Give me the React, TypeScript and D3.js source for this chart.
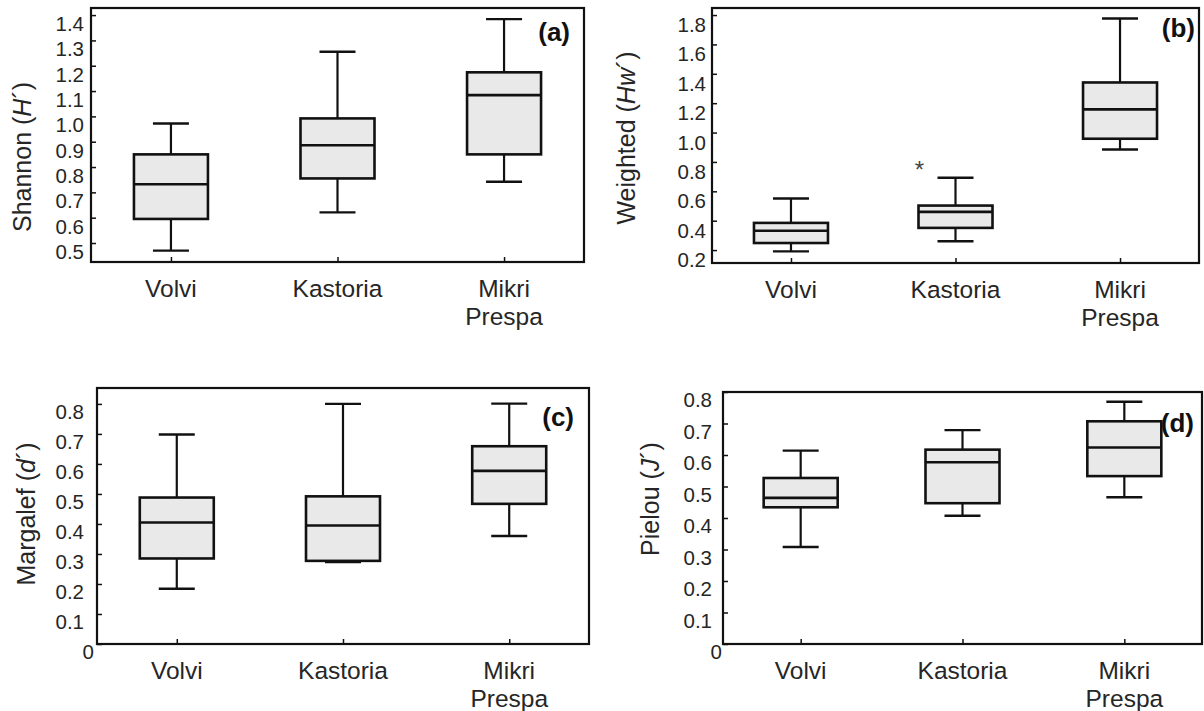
import { useEffect, useRef } from 'react';
import * as d3 from 'd3';

const categories = ['Volvi', 'Kastoria', 'Mikri Prespa'];
const categoryLines = [['Volvi'], ['Kastoria'], ['Mikri', 'Prespa']];

// per lake: [min, q1, median, q3, max]
const shannonStats = [
    [0.47, 0.595, 0.732, 0.85, 0.972],
    [0.621, 0.755, 0.886, 0.992, 1.255],
    [0.742, 0.85, 1.084, 1.174, 1.384],
];
const weightedStats = [
    [0.191, 0.248, 0.332, 0.385, 0.551],
    [0.26, 0.351, 0.46, 0.503, 0.692],
    [0.885, 0.958, 1.158, 1.341, 1.777],
];
const weightedOutliers = [{ lake: 'Kastoria', value: 0.79 }];
const margalefStats = [
    [0.184, 0.285, 0.405, 0.488, 0.698],
    [0.273, 0.277, 0.395, 0.492, 0.8],
    [0.36, 0.467, 0.577, 0.659, 0.801],
];
const pielouStats = [
    [0.308, 0.434, 0.464, 0.527, 0.614],
    [0.407, 0.447, 0.577, 0.617, 0.679],
    [0.466, 0.533, 0.624, 0.707, 0.769],
];

const shannonTicks = [0.5, 0.6, 0.7, 0.8, 0.9, 1.0, 1.1, 1.2, 1.3, 1.4];
const weightedTicks = [0.2, 0.4, 0.6, 0.8, 1.0, 1.2, 1.4, 1.6, 1.8];
const margalefTicks = [0, 0.1, 0.2, 0.3, 0.4, 0.5, 0.6, 0.7, 0.8];
const pielouTicks = [0, 0.1, 0.2, 0.3, 0.4, 0.5, 0.6, 0.7, 0.8];

const FONT = '"Liberation Sans", Arial, Helvetica, sans-serif';
const INK = '#111';
const TEXT = '#262626';
const BOX_FILL = '#e9e9e9';

const panels = [
    {
        stats: shannonStats, ticks: shannonTicks, outliers: [],
        title: ['Shannon (', 'H', '´)'], tag: '(a)',
        left: 91, right: 584, top: 8, bottom: 262, domain: [0.425, 1.428],
        tickGap: 7, zeroGap: 4, labelDy: 9,
        titleX: 22, titleY: 157, tagX: 570, tagY: 41,
    },
    {
        stats: weightedStats, ticks: weightedTicks, outliers: weightedOutliers,
        title: ['Weighted (', 'Hw', '´)'], tag: '(b)',
        left: 712, right: 1199, top: 8, bottom: 263, domain: [0.112, 1.848],
        tickGap: 6, zeroGap: 4, labelDy: 10,
        titleX: 626, titleY: 138, tagX: 1195, tagY: 37,
    },
    {
        stats: margalefStats, ticks: margalefTicks, outliers: [],
        title: ['Margalef (', 'd', '´)'], tag: '(c)',
        left: 97, right: 589, top: 388, bottom: 644, domain: [0, 0.853],
        tickGap: 13, zeroGap: 3, labelDy: 8,
        titleX: 26, titleY: 514, tagX: 574, tagY: 426,
    },
    {
        stats: pielouStats, ticks: pielouTicks, outliers: [],
        title: ['Pielou (', 'J', '´)'], tag: '(d)',
        left: 723, right: 1202, top: 392, bottom: 644, domain: [0, 0.8],
        tickGap: 11, zeroGap: 1, labelDy: 8,
        titleX: 650, titleY: 499, tagX: 1194, tagY: 432,
    },
];

function drawPanel(svg, p) {
    const x = d3.scalePoint().domain(categories).range([p.left, p.right]).padding(0.48);
    const y = d3.scaleLinear().domain(p.domain).range([p.bottom, p.top]);
    const g = svg.append('g');
    const boxW = 74;
    const capW = 36;

    // y axis, ticks pointing inward, labels sit a little low like the print
    const yAxis = g.append('g')
        .attr('transform', `translate(${p.left},0)`)
        .call(d3.axisLeft(y).tickValues(p.ticks).tickSize(-5).tickPadding(p.tickGap)
            .tickFormat(d => (d === 0 ? '0' : d3.format('.1f')(d))));
    yAxis.attr('font-family', FONT).attr('font-size', 20.5);
    yAxis.select('.domain').remove();
    yAxis.selectAll('line').attr('stroke', INK).attr('stroke-width', 1.5);
    yAxis.selectAll('text').attr('fill', TEXT).attr('y', p.labelDy);
    yAxis.selectAll('text').filter(d => d === 0).attr('x', -p.zeroGap);

    // x axis ticks
    const xAxis = g.append('g')
        .attr('transform', `translate(0,${p.bottom})`)
        .call(d3.axisBottom(x).tickSize(-5).tickFormat(() => ''));
    xAxis.select('.domain').remove();
    xAxis.selectAll('line').attr('stroke', INK).attr('stroke-width', 1.5);

    // category labels
    categories.forEach((c, i) => {
        const t = g.append('text')
            .attr('x', x(c))
            .attr('y', p.bottom + 35)
            .attr('text-anchor', 'middle')
            .attr('font-family', FONT)
            .attr('font-size', 24.5)
            .attr('fill', TEXT);
        categoryLines[i].forEach((line, j) => {
            t.append('tspan').attr('x', x(c)).attr('dy', j === 0 ? 0 : 28).text(line);
        });
    });

    // boxes
    p.stats.forEach((s, i) => {
        const cx = x(categories[i]);
        const [mn, q1, md, q3, mx] = s;
        const line = (x1, y1, x2, y2, w) => g.append('line')
            .attr('x1', x1).attr('y1', y1).attr('x2', x2).attr('y2', y2)
            .attr('stroke', INK).attr('stroke-width', w);

        line(cx, y(mx), cx, y(q3), 2.2);
        line(cx, y(q1), cx, y(mn), 2.2);
        line(cx - capW / 2, y(mx), cx + capW / 2, y(mx), 2.4);
        line(cx - capW / 2, y(mn), cx + capW / 2, y(mn), 2.4);

        g.append('rect')
            .attr('x', cx - boxW / 2)
            .attr('y', y(q3))
            .attr('width', boxW)
            .attr('height', y(q1) - y(q3))
            .attr('fill', BOX_FILL)
            .attr('stroke', INK)
            .attr('stroke-width', 2.6);

        line(cx - boxW / 2, y(md), cx + boxW / 2, y(md), 2.6);
    });

    // outliers
    p.outliers.forEach(o => {
        g.append('text')
            .attr('x', x(o.lake) - 36)
            .attr('y', y(o.value))
            .attr('dy', '0.6em')
            .attr('text-anchor', 'middle')
            .attr('font-family', FONT)
            .attr('font-size', 24)
            .attr('fill', '#444')
            .text('*');
    });

    // frame
    g.append('rect')
        .attr('x', p.left)
        .attr('y', p.top)
        .attr('width', p.right - p.left)
        .attr('height', p.bottom - p.top)
        .attr('fill', 'none')
        .attr('stroke', INK)
        .attr('stroke-width', 2.2);

    // axis title
    const title = g.append('text')
        .attr('transform', `translate(${p.titleX},${p.titleY}) rotate(-90)`)
        .attr('text-anchor', 'middle')
        .attr('dominant-baseline', 'central')
        .attr('font-family', FONT)
        .attr('font-size', 25)
        .attr('fill', TEXT);
    title.append('tspan').text(p.title[0]);
    title.append('tspan').attr('font-style', 'italic').text(p.title[1]);
    title.append('tspan').text(p.title[2]);

    // panel tag
    g.append('text')
        .attr('x', p.tagX)
        .attr('y', p.tagY)
        .attr('text-anchor', 'end')
        .attr('font-family', FONT)
        .attr('font-size', 26)
        .attr('font-weight', 'bold')
        .attr('fill', INK)
        .text(p.tag);
}

export default function App() {
    const svgRef = useRef(null);

    useEffect(() => {
        if (!svgRef.current) return;
        const svg = d3.select(svgRef.current);
        svg.selectAll('*').remove();
        panels.forEach(p => drawPanel(svg, p));
    }, []);

    return (
        <div style={{ position: 'absolute', left: 0, top: 0 }}>
            <svg ref={svgRef} width={1204} height={711} style={{ display: 'block', background: '#fff' }} />
        </div>
    );
}
